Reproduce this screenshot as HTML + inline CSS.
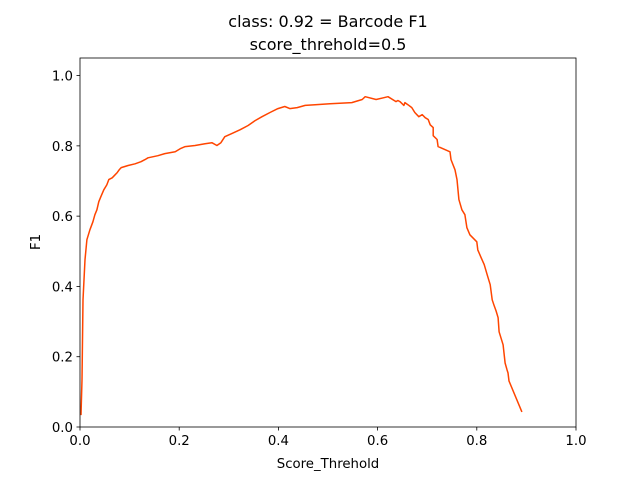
<!DOCTYPE html>
<html><head><meta charset="utf-8"><style>
body{margin:0;background:#fff;}
svg text{font-family:"DejaVu Sans","Liberation Sans",sans-serif;fill:#000;}
</style></head><body>
<svg id="chart" width="640" height="480" xmlns="http://www.w3.org/2000/svg">
<rect width="640" height="480" fill="#fff"/>
<text x="328" y="27" font-size="16" text-anchor="middle">class: 0.92 = Barcode F1</text>
<text x="328" y="50" font-size="16" text-anchor="middle">score_threhold=0.5</text>
<g id="plot"></g>
<text x="328" y="468" font-size="13.3" text-anchor="middle">Score_Threhold</text>
<text transform="translate(40,242) rotate(-90)" font-size="13.3" text-anchor="middle">F1</text>
</svg>
<script>
const xTicks=[0,0.2,0.4,0.6,0.8,1.0];
const yTicks=[0,0.2,0.4,0.6,0.8,1.0];
const xs=[0.002,0.004,0.006,0.010,0.014,0.020,0.026,0.030,0.034,0.038,0.042,0.048,0.054,0.058,0.065,0.071,0.075,0.079,0.083,0.097,0.111,0.123,0.131,0.137,0.157,0.171,0.192,0.202,0.212,0.232,0.252,0.266,0.276,0.284,0.292,0.306,0.323,0.339,0.353,0.367,0.383,0.399,0.413,0.423,0.438,0.454,0.474,0.504,0.548,0.569,0.575,0.597,0.621,0.637,0.641,0.645,0.653,0.655,0.661,0.669,0.675,0.683,0.690,0.696,0.702,0.706,0.712,0.712,0.720,0.722,0.746,0.748,0.756,0.760,0.764,0.770,0.776,0.780,0.786,0.800,0.802,0.808,0.815,0.821,0.827,0.831,0.835,0.839,0.843,0.845,0.853,0.857,0.861,0.863,0.865,0.891];
const ys=[0.034,0.134,0.362,0.476,0.533,0.561,0.584,0.604,0.618,0.641,0.655,0.675,0.689,0.704,0.709,0.718,0.724,0.732,0.738,0.744,0.749,0.755,0.761,0.766,0.772,0.778,0.783,0.792,0.798,0.801,0.806,0.809,0.801,0.809,0.826,0.835,0.846,0.858,0.872,0.883,0.895,0.906,0.912,0.906,0.909,0.915,0.917,0.920,0.923,0.932,0.940,0.932,0.940,0.926,0.929,0.926,0.915,0.923,0.917,0.909,0.895,0.883,0.889,0.880,0.875,0.860,0.852,0.829,0.818,0.798,0.783,0.761,0.732,0.704,0.647,0.618,0.604,0.567,0.547,0.527,0.504,0.484,0.462,0.433,0.405,0.362,0.345,0.330,0.311,0.271,0.234,0.182,0.162,0.154,0.131,0.043];
const L=80,R=576,T=58,B=427;
const sx=v=>L+v*(R-L);
const sy=v=>B-v/1.05*(B-T);
const NS="http://www.w3.org/2000/svg";
const g=document.getElementById('plot');
function mk(t,a){const e=document.createElementNS(NS,t);for(const k in a)e.setAttribute(k,a[k]);g.appendChild(e);return e;}
const line=mk('polyline',{points:xs.map((x,i)=>sx(x).toFixed(1)+','+sy(ys[i]).toFixed(1)).join(' '),fill:'none',stroke:'#ff4500','stroke-width':1.5,'stroke-linejoin':'round'});


const frame=mk('rect',{x:L,y:T,width:R-L,height:B-T,fill:'none',stroke:'#000','stroke-width':0.8});


xTicks.forEach(v=>{
 const tk=mk('line',{x1:sx(v),x2:sx(v),y1:B,y2:B+3.5,stroke:'#000','stroke-width':0.8});
 
 
 const t=mk('text',{x:sx(v),y:B+18,'font-size':13.3,'text-anchor':'middle'});
 t.textContent=v.toFixed(1);
 
 
});
yTicks.forEach(v=>{
 const tk=mk('line',{x1:L-3.5,x2:L,y1:sy(v),y2:sy(v),stroke:'#000','stroke-width':0.8});
 
 
 const t=mk('text',{x:L-7,y:sy(v)+5,'font-size':13.3,'text-anchor':'end'});
 t.textContent=v.toFixed(1);
 
 
});
</script>
</body></html>
